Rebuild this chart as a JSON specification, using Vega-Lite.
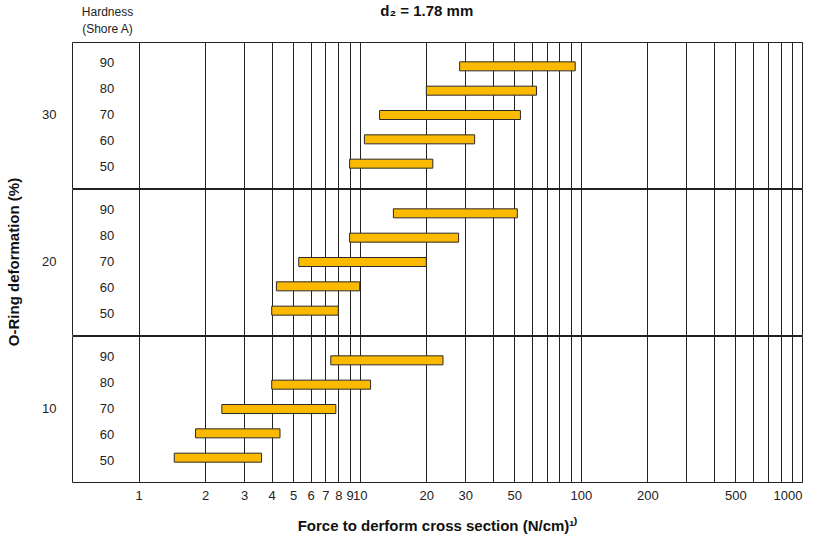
{
  "$schema": "https://vega.github.io/schema/vega-lite/v6.json",
  "background": "white",
  "padding": {"left": 6, "top": 4, "right": 10, "bottom": 5},
  "config": {
    "font": "Liberation Sans",
    "view": {"stroke": "#222", "strokeWidth": 1}
  },
  "title": {"text": "d₂ = 1.78 mm", "fontSize": 15, "fontWeight": "bold", "color": "#111", "anchor": "middle", "offset": -11, "dx": 22, "dy": 3},
  "data": {
    "values": [
      {"deformation": 30, "hardness": 90, "min": 28.3, "max": 94.3},
      {"deformation": 30, "hardness": 80, "min": 20.0, "max": 63.0},
      {"deformation": 30, "hardness": 70, "min": 12.3, "max": 53.3},
      {"deformation": 30, "hardness": 60, "min": 10.5, "max": 33.1},
      {"deformation": 30, "hardness": 50, "min": 9.0, "max": 21.4},
      {"deformation": 20, "hardness": 90, "min": 14.2, "max": 51.6},
      {"deformation": 20, "hardness": 80, "min": 9.0, "max": 28.0},
      {"deformation": 20, "hardness": 70, "min": 5.3, "max": 20.0},
      {"deformation": 20, "hardness": 60, "min": 4.2, "max": 10.0},
      {"deformation": 20, "hardness": 50, "min": 4.0, "max": 8.0},
      {"deformation": 10, "hardness": 90, "min": 7.4, "max": 23.8},
      {"deformation": 10, "hardness": 80, "min": 4.0, "max": 11.2},
      {"deformation": 10, "hardness": 70, "min": 2.38, "max": 7.8},
      {"deformation": 10, "hardness": 60, "min": 1.81, "max": 4.36},
      {"deformation": 10, "hardness": 50, "min": 1.45, "max": 3.6}
    ]
  },
  "facet": {
    "row": {
      "field": "deformation",
      "type": "ordinal",
      "sort": "descending",
      "title": "O-Ring deformation (%)",
      "header": {
        "labelAngle": 0,
        "labelOrient": "left",
        "labelFontSize": 13,
        "labelColor": "#222",
        "labelPadding": 0,
        "titleOrient": "left",
        "titleFontSize": 15,
        "titleFontWeight": "bold",
        "titleColor": "#111",
        "titlePadding": 10
      }
    }
  },
  "spacing": {"row": -1.5},
  "spec": {
    "width": 730,
    "height": 146,
    "layer": [
      {
        "mark": {"type": "bar", "height": 9, "color": "#FBB900", "stroke": "#2a2a2a", "strokeWidth": 1},
        "encoding": {
          "x": {
            "field": "min",
            "type": "quantitative",
            "scale": {"type": "log", "domain": [0.5, 1000], "nice": false},
            "title": "Force to derform cross section (N/cm)¹⁾",
            "axis": {
              "orient": "bottom",
              "values": [1,2,3,4,5,6,7,8,9,10,20,30,40,50,60,70,80,90,100,200,300,400,500,600,700,800,900,1000],
              "labelExpr": "indexof([1,2,3,4,5,6,7,8,9,10,20,30,50,100,200,500,1000], datum.value) >= 0 ? format(datum.value, 'd') : ''",
              "labelOverlap": false,
              "labelFontSize": 13,
              "labelColor": "#222",
              "labelPadding": 6,
              "ticks": false,
              "domain": false,
              "grid": true,
              "gridColor": "#222",
              "gridOpacity": 1,
              "gridWidth": 1,
              "titleFontSize": 15,
              "titleFontWeight": "bold",
              "titleColor": "#111",
              "titlePadding": 16
            }
          },
          "x2": {"field": "max"},
          "y": {"field": "hardness", "type": "ordinal", "sort": "descending", "scale": {"type": "point", "padding": 1.3}, "axis": null}
        }
      },
      {
        "mark": {"type": "text", "fontSize": 13, "color": "#222", "align": "center", "baseline": "middle"},
        "encoding": {
          "x": {
            "datum": 0.72,
            "type": "quantitative",
            "axis": {
              "orient": "top",
              "title": ["Hardness", "(Shore A)"],
              "labels": false,
              "ticks": false,
              "domain": false,
              "grid": false,
              "titleFontSize": 12,
              "titleFontWeight": "normal",
              "titleColor": "#222",
              "titleAngle": 0,
              "titleAlign": "center",
              "titleBaseline": "alphabetic",
              "titleLineHeight": 17,
              "titleX": 35,
              "titleY": -26
            }
          },
          "y": {"field": "hardness", "type": "ordinal", "sort": "descending", "scale": {"type": "point", "padding": 0.81}, "axis": null},
          "text": {"field": "hardness", "type": "ordinal"}
        }
      }
    ],
    "resolve": {"scale": {"y": "independent"}, "axis": {"x": "independent"}}
  }
}
